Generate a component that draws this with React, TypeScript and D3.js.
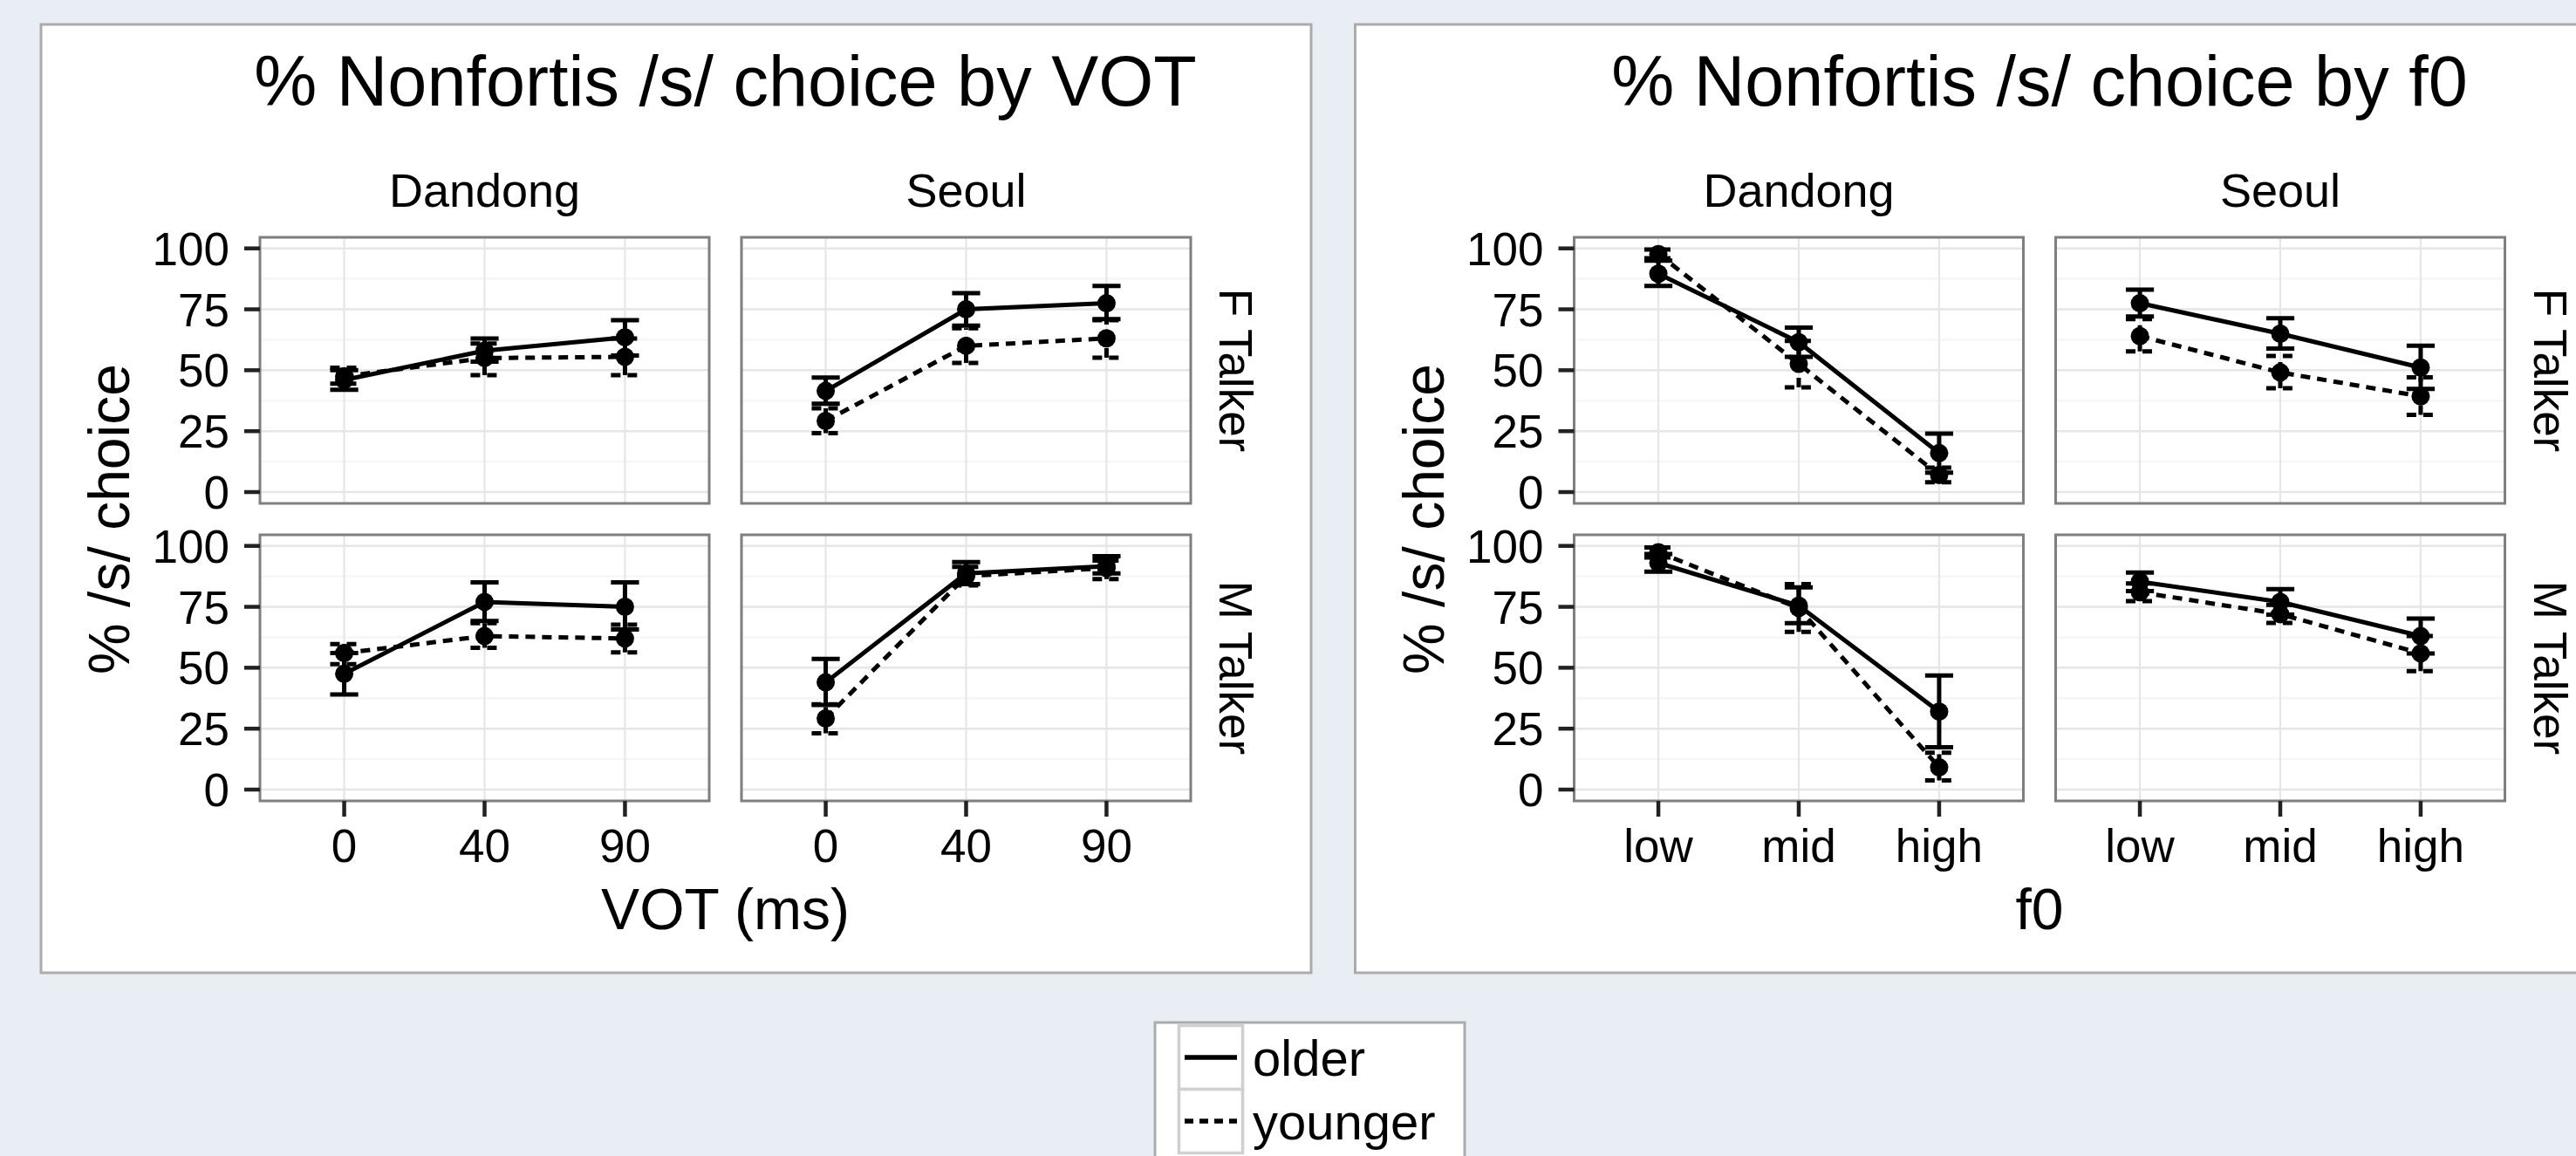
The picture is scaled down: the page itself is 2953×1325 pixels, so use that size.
import React from "react";
import * as d3 from "d3";

const W = 2953;
const H = 1325;
const FONT = "'Liberation Sans', Arial, Helvetica, sans-serif";

const regions = ["Dandong", "Seoul"];
const talkers = ["F Talker", "M Talker"];
const ages = ["older", "younger"];
const votLevels = ["0", "40", "90"];
const f0Levels = ["low", "mid", "high"];
const yTicks = [0, 25, 50, 75, 100];
const yMinor = [12.5, 37.5, 62.5, 87.5];
const Y_DOMAIN = [-4.65, 104.55];

// panel order in every array: Dandong F, Dandong M, Seoul F, Seoul M
const votOlderMean = [[46, 58, 63.5], [47.5, 77, 75], [41.5, 75, 77.5], [44, 88.7, 91.7]];
const votOlderLo = [[42, 53.5, 56], [39, 69.2, 65.7], [36.3, 68.3, 71], [34.7, 84.3, 88.7]];
const votOlderHi = [[50, 63, 70.5], [56, 85, 85], [47, 81.6, 84.6], [53.6, 93.4, 95.8]];
const votYoungerMean = [[47.5, 55, 55.5], [56, 63, 62], [29.2, 60, 63.1], [29.2, 87.6, 90.9]];
const votYoungerLo = [[44.5, 48, 48], [51.5, 58.2, 56.3], [24.2, 53, 55.1], [23.1, 83.8, 86.4]];
const votYoungerHi = [[51, 61, 63], [59.7, 68.3, 67.7], [34.4, 67.2, 70.5], [35, 91.4, 94]];

const f0OlderMean = [[89.6, 61.5, 16], [93, 75.5, 32], [77.5, 65, 51.1], [85.3, 77, 63]];
const f0OlderLo = [[84.6, 55.5, 8], [89.4, 68.3, 17.4], [72.1, 58.9, 42.3], [81.5, 71.8, 55.9]];
const f0OlderHi = [[95, 67.5, 24], [96.7, 83, 46.8], [83.1, 71.3, 60.1], [89.1, 82.3, 70.2]];
const f0YoungerMean = [[97.7, 52.6, 7], [97.4, 74.5, 9.1], [64, 49.1, 39.3], [81, 72, 55.9]];
const f0YoungerLo = [[96, 43, 4], [95.2, 64.7, 3.8], [57.7, 42.6, 31.7], [77.3, 68.4, 48.6]];
const f0YoungerHi = [[99.5, 62, 10], [99.4, 84.3, 15.1], [71, 55.9, 47.1], [84.6, 75.8, 63]];

const GRAY_BOX = "#ababab";
const DASH = "11 8";

type Pt = { level: string; mean: number; lo: number; hi: number };

function series(levels: string[], mean: number[][], lo: number[][], hi: number[][], p: number): Pt[] {
  return levels.map((level, i) => ({ level, mean: mean[p][i], lo: lo[p][i], hi: hi[p][i] }));
}

const PANEL_W = 515;
const PANEL_H = 305;
const COL_OFF = [251, 803];
const ROW_Y = [272, 613];

function Panel({ x0, y0, levels, groups, showY, showX }: any) {
  const xs = d3.scalePoint().domain(levels).range([x0, x0 + PANEL_W]).padding(0.6);
  const ys = d3.scaleLinear().domain(Y_DOMAIN).range([y0 + PANEL_H, y0]);
  const capW = xs.step() * 0.1;
  const line = d3
    .line<Pt>()
    .x((d) => xs(d.level) as number)
    .y((d) => ys(d.mean));
  return (
    <g>
      <rect x={x0} y={y0} width={PANEL_W} height={PANEL_H} fill="white" />
      {yMinor.map((v) => (
        <line key={"m" + v} x1={x0} x2={x0 + PANEL_W} y1={ys(v)} y2={ys(v)} stroke="#f6f6f6" strokeWidth={2.5} />
      ))}
      {yTicks.map((v) => (
        <line key={"g" + v} x1={x0} x2={x0 + PANEL_W} y1={ys(v)} y2={ys(v)} stroke="#e6e6e6" strokeWidth={2.5} />
      ))}
      {levels.map((l: string) => (
        <line key={"v" + l} x1={xs(l)} x2={xs(l)} y1={y0} y2={y0 + PANEL_H} stroke="#e6e6e6" strokeWidth={2.2} />
      ))}
      {groups.map((g: { age: string; pts: Pt[] }) => {
        const dash = g.age === "younger" ? DASH : undefined;
        return (
          <g key={g.age}>
            {g.pts.map((d) => {
              const cx = xs(d.level) as number;
              return (
                <g key={d.level} stroke="black" strokeWidth={5} strokeDasharray={dash}>
                  <line x1={cx} x2={cx} y1={ys(d.lo)} y2={ys(d.hi)} />
                  <line x1={cx - capW} x2={cx + capW} y1={ys(d.hi)} y2={ys(d.hi)} />
                  <line x1={cx - capW} x2={cx + capW} y1={ys(d.lo)} y2={ys(d.lo)} />
                </g>
              );
            })}
            <path d={line(g.pts) || ""} fill="none" stroke="black" strokeWidth={5} strokeDasharray={dash} />
            {g.pts.map((d) => (
              <circle key={"p" + d.level} cx={xs(d.level)} cy={ys(d.mean)} r={10.5} fill="black" />
            ))}
          </g>
        );
      })}
      <rect x={x0} y={y0} width={PANEL_W} height={PANEL_H} fill="none" stroke="#7f7f7f" strokeWidth={3} />
      {showY &&
        yTicks.map((v) => (
          <g key={"t" + v}>
            <line x1={x0 - 18} x2={x0} y1={ys(v)} y2={ys(v)} stroke="#222" strokeWidth={4.5} />
            <text x={x0 - 35} y={ys(v)} dy="0.36em" textAnchor="end" fontSize={53}>
              {v}
            </text>
          </g>
        ))}
      {showX &&
        levels.map((l: string) => (
          <g key={"x" + l}>
            <line x1={xs(l)} x2={xs(l)} y1={y0 + PANEL_H} y2={y0 + PANEL_H + 18} stroke="#222" strokeWidth={4.5} />
            <text x={xs(l)} y={988} textAnchor="middle" fontSize={53}>
              {l}
            </text>
          </g>
        ))}
    </g>
  );
}

function Figure({ left, title, xTitle, levels, om, ol, oh, ym, yl, yh }: any) {
  const midX = left + (COL_OFF[0] + COL_OFF[1] + PANEL_W) / 2;
  return (
    <g>
      <rect x={left} y={28} width={1456} height={1087} fill="white" stroke={GRAY_BOX} strokeWidth={3} />
      <text x={midX} y={121} textAnchor="middle" fontSize={81}>
        {title}
      </text>
      {regions.map((reg, c) => (
        <text key={reg} x={left + COL_OFF[c] + PANEL_W / 2} y={237} textAnchor="middle" fontSize={54}>
          {reg}
        </text>
      ))}
      {talkers.map((t, r) => (
        <text
          key={t}
          transform={`translate(${left + 1351},${ROW_Y[r] + PANEL_H / 2}) rotate(90)`}
          textAnchor="middle"
          fontSize={53}
        >
          {t}
        </text>
      ))}
      {regions.map((reg, c) =>
        talkers.map((t, r) => {
          const p = c * 2 + r;
          const groups = ages.map((age) => ({
            age,
            pts: age === "older" ? series(levels, om, ol, oh, p) : series(levels, ym, yl, yh, p),
          }));
          return (
            <Panel
              key={reg + t}
              x0={left + COL_OFF[c]}
              y0={ROW_Y[r]}
              levels={levels}
              groups={groups}
              showY={c === 0}
              showX={r === 1}
            />
          );
        })
      )}
      <text x={midX} y={1065} textAnchor="middle" fontSize={66}>
        {xTitle}
      </text>
      <text
        transform={`translate(${left + 101},${(ROW_Y[0] + ROW_Y[1] + PANEL_H) / 2}) rotate(-90)`}
        textAnchor="middle"
        fontSize={66}
      >
        % /s/ choice
      </text>
    </g>
  );
}

function Legend() {
  const keyY = [1175.5, 1248.5];
  return (
    <g>
      <rect x={1324} y={1172} width={355} height={300} fill="white" stroke={GRAY_BOX} strokeWidth={3} />
      {ages.map((a, i) => (
        <g key={a}>
          <rect x={1351.5} y={keyY[i]} width={73} height={73} fill="white" stroke="#d0d0d0" strokeWidth={3.5} />
          <line
            x1={1358}
            x2={1418}
            y1={keyY[i] + 36.5}
            y2={keyY[i] + 36.5}
            stroke="black"
            strokeWidth={5.5}
            strokeDasharray={a === "younger" ? "10 7" : undefined}
          />
          <text x={1436} y={keyY[i] + 57} fontSize={58}>
            {a}
          </text>
        </g>
      ))}
    </g>
  );
}

export default function App() {
  return (
    <>
      <style>{`body{margin:0;overflow:hidden}`}</style>
      <svg width={W} height={H} style={{ display: "block", fontFamily: FONT }}>
        <rect width={W} height={H} fill="#e9eef5" />
        <Figure
          left={47}
          title="% Nonfortis /s/ choice by VOT"
          xTitle="VOT (ms)"
          levels={votLevels}
          om={votOlderMean}
          ol={votOlderLo}
          oh={votOlderHi}
          ym={votYoungerMean}
          yl={votYoungerLo}
          yh={votYoungerHi}
        />
        <Figure
          left={1553.5}
          title="% Nonfortis /s/ choice by f0"
          xTitle="f0"
          levels={f0Levels}
          om={f0OlderMean}
          ol={f0OlderLo}
          oh={f0OlderHi}
          ym={f0YoungerMean}
          yl={f0YoungerLo}
          yh={f0YoungerHi}
        />
        <Legend />
      </svg>
    </>
  );
}
